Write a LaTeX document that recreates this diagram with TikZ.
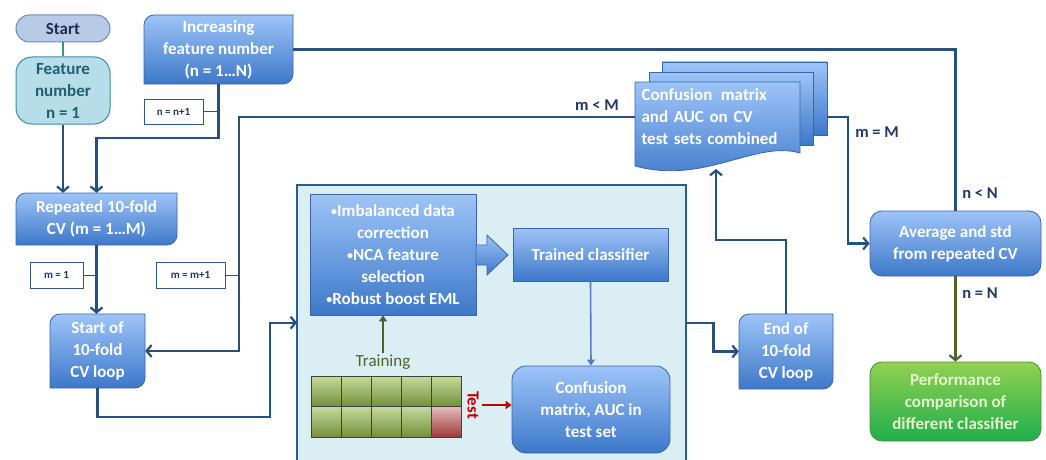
\documentclass[tikz,border=0pt]{standalone}
\usepackage{fontspec}
\setmainfont{Carlito}
\usetikzlibrary{arrows.meta}
\definecolor{lineblue}{HTML}{25507F}
\definecolor{boxtop}{HTML}{9EC4F8}
\definecolor{boxbot}{HTML}{3D78C9}
\definecolor{boxedge}{HTML}{3766A8}
\definecolor{labedge}{HTML}{2F5597}
\definecolor{labtext}{HTML}{1F3864}
\definecolor{startfill}{HTML}{B8CAE6}
\definecolor{startedge}{HTML}{6A8BBB}
\definecolor{starttext}{HTML}{1F2D4F}
\definecolor{featfill}{HTML}{B7DEE8}
\definecolor{featedge}{HTML}{3A8DA3}
\definecolor{feattext}{HTML}{215E6E}
\definecolor{panelfill}{HTML}{DBEEF4}
\definecolor{paneledge}{HTML}{2E5C8A}
\definecolor{cellgtop}{HTML}{C6DA9E}
\definecolor{cellgbot}{HTML}{72903A}
\definecolor{cellrtop}{HTML}{E8BCBB}
\definecolor{cellrbot}{HTML}{9A3B39}
\definecolor{traingreen}{HTML}{4F6228}
\definecolor{testred}{HTML}{C00000}
\definecolor{perftop}{HTML}{92D150}
\definecolor{perfbot}{HTML}{1EAE4E}
\definecolor{perfedge}{HTML}{4E8A32}
\definecolor{perftext}{HTML}{E6F4CC}
\definecolor{thinblue}{HTML}{4F81BD}
\newcommand\bxfont{\fontsize{17}{22}\selectfont\bfseries}
\newcommand\lbfont{\fontsize{16.5}{19}\selectfont\bfseries}
\newcommand\smfont{\fontsize{11}{13}\selectfont\bfseries}
\newcommand\bul{\raisebox{1.2pt}{\fontsize{12}{12}\selectfont•}}
\newcommand\tlbr[4]{\path[bluebox] (#1,#2+10) arc[start angle=180,end angle=270,radius=10] -- (#3,#2) -- (#3,#4-10) arc[start angle=0,end angle=90,radius=10] -- (#1,#4) -- cycle;}
\begin{document}
\begin{tikzpicture}[x=1pt,y=-1pt,
  conn/.style={draw=lineblue, line width=2.2pt},
  thinconn/.style={draw=lineblue, line width=0.9pt},
  arr/.style={conn, -{Straight Barb[length=5pt,width=12pt]}},
  bluebox/.style={top color=boxtop, bottom color=boxbot, draw=boxedge, line width=0.8pt},
  txt/.style={text=white, font=\bxfont, align=center, inner sep=0pt},
  sqbox/.style={bluebox, txt, rectangle},
  rdbox/.style={bluebox, txt, rectangle, rounded corners=12pt},
  lab/.style={draw=labedge, fill=white, line width=0.9pt, font=\smfont, text=labtext, inner sep=0pt},
  cond/.style={font=\lbfont, text=labtext, inner sep=0pt},
  cellg/.style={top color=cellgtop, bottom color=cellgbot, draw=black!75, line width=0.8pt},
  cellr/.style={top color=cellrtop, bottom color=cellrbot, draw=black!75, line width=0.8pt}]
\useasboundingbox (0,0) rectangle (1046,460);

% inner panel
\node[fill=panelfill, draw=none, minimum width=389pt, minimum height=275pt, anchor=north west, inner sep=0pt] (panel) at (297,185) {};
\draw[draw=paneledge, line width=1.2pt] (297,460) -- (297,185) -- (686,185) -- (686,460);

% start and feature number
\node[fill=startfill, draw=startedge, line width=1pt, rounded corners=13.5pt, minimum width=94pt, minimum height=27pt, inner sep=0pt, font=\bxfont, text=starttext] (start) at (63,28.5) {Start};
\node[fill=featfill, draw=featedge, line width=1pt, rounded corners=16pt, minimum width=94pt, minimum height=67pt, inner sep=0pt, font=\bxfont, text=feattext, align=center] (feat) at (63,90.5) {Feature\\number\\n = 1};
\draw[draw=featedge, line width=2pt] (start) -- (feat);

% increasing feature number
\tlbr{144}{15}{293}{84}
\node[txt, minimum width=149pt, minimum height=69pt] (inc) at (218.5,49.5) {Increasing\\feature number\\(n = 1…N)};
\node[lab, minimum width=59pt, minimum height=25pt] (nn) at (173.5,111.5) {n = n+1};

% repeated CV
\tlbr{16}{193}{177}{245}
\node[txt, minimum width=161pt, minimum height=52pt] (rep) at (96.5,219) {Repeated 10-fold\\CV (m = 1…M)};
\node[lab, minimum width=53pt, minimum height=26pt] (m1) at (56.5,275) {m = 1};
\node[lab, minimum width=69pt, minimum height=26pt] (mm1) at (190.5,275) {m = m+1};

% start of loop
\tlbr{50}{314}{145}{388}
\node[txt, minimum width=95pt, minimum height=74pt] (loop) at (97.5,351) {Start of\\10-fold\\CV loop};

% end of loop
\tlbr{739}{314}{833}{389}
\node[txt, minimum width=94pt, minimum height=75pt] (endl) at (786,351.5) {End of\\10-fold\\CV loop};

% stack of confusion matrices
\path[bluebox] (662,62) rectangle (827,135);
\path[bluebox] (649,72) rectangle (813,145);
\path[bluebox] (635,82) -- (800,82) -- (800,153) .. controls (755,140) and (705,185) .. (635,166) -- cycle;
\node[txt, minimum width=165pt, minimum height=70pt, text width=152pt, align=left] (conf) at (717.5,117) {Confusion \,matrix\\and AUC on CV\\test sets combined};
\coordinate (cout) at (827,117);
\coordinate (cin) at (716,169);

% average and performance
\node[rdbox, minimum width=171pt, minimum height=65pt] (avg) at (955.5,243.5) {Average and std\\from repeated CV};
\node[top color=perftop, bottom color=perfbot, draw=perfedge, line width=0.8pt, rounded corners=12pt, minimum width=171pt, minimum height=79pt, inner sep=0pt, font=\bxfont, text=perftext, align=center] (perf) at (955.5,401.5) {Performance\\comparison of\\different classifier};

% inside the panel
\node[sqbox, minimum width=166pt, minimum height=121pt] (bulx) at (393,254.5) {\bul Imbalanced data\\correction\\\bul NCA feature\\selection\\\bul Robust boost EML};
\path[bluebox] (476,245) -- (487,245) -- (487,235) -- (508,255) -- (487,275) -- (487,265) -- (476,265) -- cycle;
\node[sqbox, minimum width=155pt, minimum height=53pt] (trn) at (590.5,254.5) {Trained classifier};
\node[rdbox, rounded corners=14pt, minimum width=158pt, minimum height=87pt] (cmt) at (591,409.5) {Confusion\\matrix, AUC in\\test set};
\draw[draw=thinblue, line width=1.6pt, -{Triangle[length=6pt,width=8pt]}] (trn.south) -- (cmt.north);

\foreach \i in {0,...,4} {
  \path[cellg] (311+30*\i,376) rectangle ++(30,30.5);
}
\foreach \i in {0,...,3} {
  \path[cellg] (311+30*\i,406.5) rectangle ++(30,30.5);
}
\path[cellr] (431,406.5) rectangle ++(30,30.5);

\node[font=\fontsize{17}{20}\selectfont, text=traingreen, inner sep=1pt] (trl) at (383,362) {Training};
\draw[draw=traingreen, line width=2pt, -{Triangle[length=6pt,width=8pt]}] (trl.north) -- (trl.north |- bulx.south);
\node[font=\fontsize{17}{20}\selectfont\bfseries, text=testred, rotate=-90, inner sep=0pt] (tst) at (473,405) {Test};
\coordinate (tstc) at (482,405);
\draw[draw=testred, line width=2pt, -{Triangle[length=6pt,width=8pt]}] (tstc) -- (tstc -| cmt.west);

% connectors
\draw[arr] (feat.south) -- (feat.south |- rep.north);
\coordinate (j1) at (96.5,138);
\draw[arr] (inc.south) |- (j1) -- (rep.north);
\draw[thinconn] (nn.east) -- (nn.east -| inc.south);
\draw[arr] (rep.south) -- (rep.south |- loop.north);
\draw[thinconn] (m1.east) -- (m1.east -| rep.south);
\coordinate (c1) at (239,351);
\draw[arr] (conf.west) -| (c1) -- (loop.east);
\draw[thinconn] (mm1.east) -- (mm1.east -| c1);
\node[cond] (mlt) at (597,105) {m < M};
\draw[arr] (loop.south) |- (270,417) |- (panel.west);
\draw[arr] (panel.east) -- ++(27,0) |- (endl.west);
\draw[arr] (endl.north) |- (716,240) -- (cin);
\draw[arr] (cout) -- (848,117) |- (avg.west);
\node[cond] (meq) at (877,132) {m = M};
\draw[conn] (inc.east) -| (avg.north);
\node[cond] (nlt) at (980,193) {n < N};
\draw[draw=traingreen, line width=2.2pt, -{Straight Barb[length=5pt,width=12pt]}] (avg.south) -- (perf.north);
\node[cond] (neq) at (980,293) {n = N};
\end{tikzpicture}
\end{document}
